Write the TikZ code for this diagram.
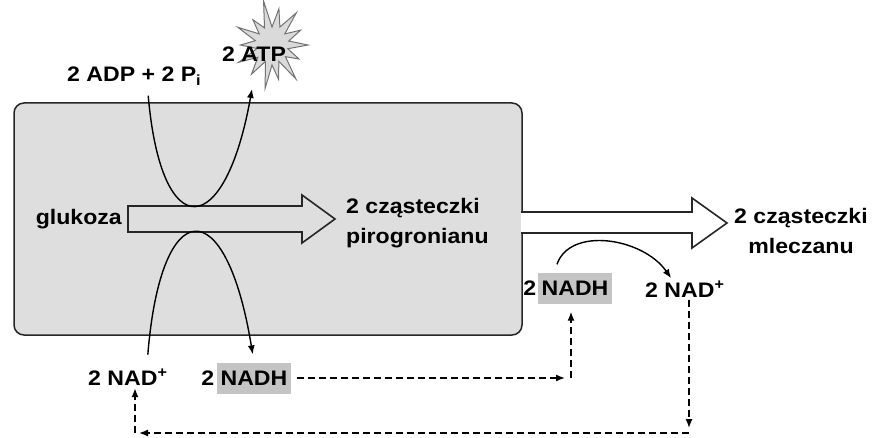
\documentclass[tikz,border=0pt]{standalone}
\usepackage{fontspec}
\setmainfont{Liberation Sans}[FakeStretch=1.1]
\usetikzlibrary{arrows.meta,positioning}
\definecolor{boxgrey}{HTML}{DEDEDE}
\definecolor{nadgrey}{HTML}{C4C4C4}
\definecolor{burstgrey}{HTML}{DADADA}

\begin{document}
\begin{tikzpicture}[
		x=1pt, y=-1pt,
		font=\fontsize{21}{30}\selectfont\bfseries,
		txt/.style={inner sep=0pt},
		hl/.style={fill=nadgrey, inner xsep=4pt, inner ysep=8pt, text height=15pt, text depth=0pt},
		flow/.style={line width=1.4pt, -{Latex[length=9pt, width=7pt]}},
		dashflow/.style={flow, dash pattern=on 7pt off 4pt},
		bigarrow/.style={draw=black!85, line width=1.6pt, line join=miter},
	]
		\fill[white] (0,0) rectangle (874,438);
		\useasboundingbox (0,0) rectangle (874,438);
		
		% cell
		\draw[draw=black!85, line width=1.5pt, fill=boxgrey, rounded corners=10pt] (14,103) rectangle (522,335);
		
		% the two big arrows
		\draw[bigarrow, fill=boxgrey] (128,206) -- (302,206) -- (302,195) -- (335,219) -- (302,243) -- (302,232) -- (128,232) -- cycle;
		\draw[bigarrow, fill=white] (521,212) -- (692,212) -- (692,198) -- (727,223) -- (692,248) -- (692,233) -- (521,233);
		
		\node (glu) [txt, anchor=base east] at (122,224) {glukoza};
		\node (pir) [txt, anchor=west, align=left] at (346,223) {2 cząsteczki\\pirogronianu};
		\node (mlecz) [txt, align=center] at (801,231) {2 cząsteczki\\mleczanu};
		
		% ATP burst
		\coordinate (burst) at (272,45);
		\draw[shift={(burst)}, xscale=0.9, fill=burstgrey, draw=black!55, line width=1pt]
			(0:40) \foreach \a/\r in {12/18, 25/33, 38/19, 52/43, 65/18, 78/35, 90/20, 100/44, 114/18, 128/37, 142/20,
				155/41, 168/17, 180/35, 193/19, 205/42, 218/18, 230/33, 244/19, 258/45, 270/18, 282/37, 296/20,
				310/42, 322/18, 335/35, 348/19} { -- (\a:\r) } -- cycle;
		\node (atp) [txt, anchor=base west] at (222,62) {2 ATP};
		\node (adp) [txt, anchor=base west] at (67,82) {2 ADP + 2 P\textsubscript{i}};
		
		\node (nad1) [txt, anchor=base west] at (88,385) {2 NAD\textsuperscript{+}};
		\node (nadh1) [hl] at (254,378) {NADH};
		\node (two1) [txt, anchor=base east] at ([xshift=-2pt]nadh1.base west) {2};
		\node (nadh2) [hl] at (575,288) {NADH};
		\node (two2) [txt, anchor=base east] at ([xshift=-1pt]nadh2.base west) {2};
		\node (nad2) [txt, anchor=base west] at (645,297) {2 NAD\textsuperscript{+}};
		
		% ADP -> ATP and NAD+ -> NADH
		\draw[flow] ([xshift=14pt, yshift=-10pt]adp.south) .. controls +(13,150) and +(-27,152) .. ([xshift=-20pt, yshift=-44pt]burst);
		\draw[flow, shorten >=8pt] ([xshift=20pt, yshift=14pt]nad1.north) .. controls +(13,-162) and +(-28,-172) .. (nadh1.north);
		\draw[flow, shorten >=3pt] ([xshift=-18pt, yshift=8pt]nadh2.north) .. controls +(13,-38) and +(-30,-43) .. ([xshift=-12pt]nad2.north);
		
		% recycling of NADH / NAD+
		\coordinate (c1) at (571,378);
		\coordinate (c2) at (689,433);
		\coordinate (c3) at (135,433);
		\draw[dashflow, shorten <=5pt, shorten >=6pt] (nadh1.east) -- (c1);
		\draw[dashflow, shorten >=8pt] (c1) -- (c1 |- nadh2.south);
		\draw[dashflow, shorten <=3pt, shorten >=5pt] (c2 |- nad2.south) -- (c2);
		\draw[dashflow, shorten >=4pt] (c2) -- (c3);
		\draw[dashflow, shorten >=3pt] (c3) -- (c3 |- nad1.south);
	\end{tikzpicture}
\end{document}
